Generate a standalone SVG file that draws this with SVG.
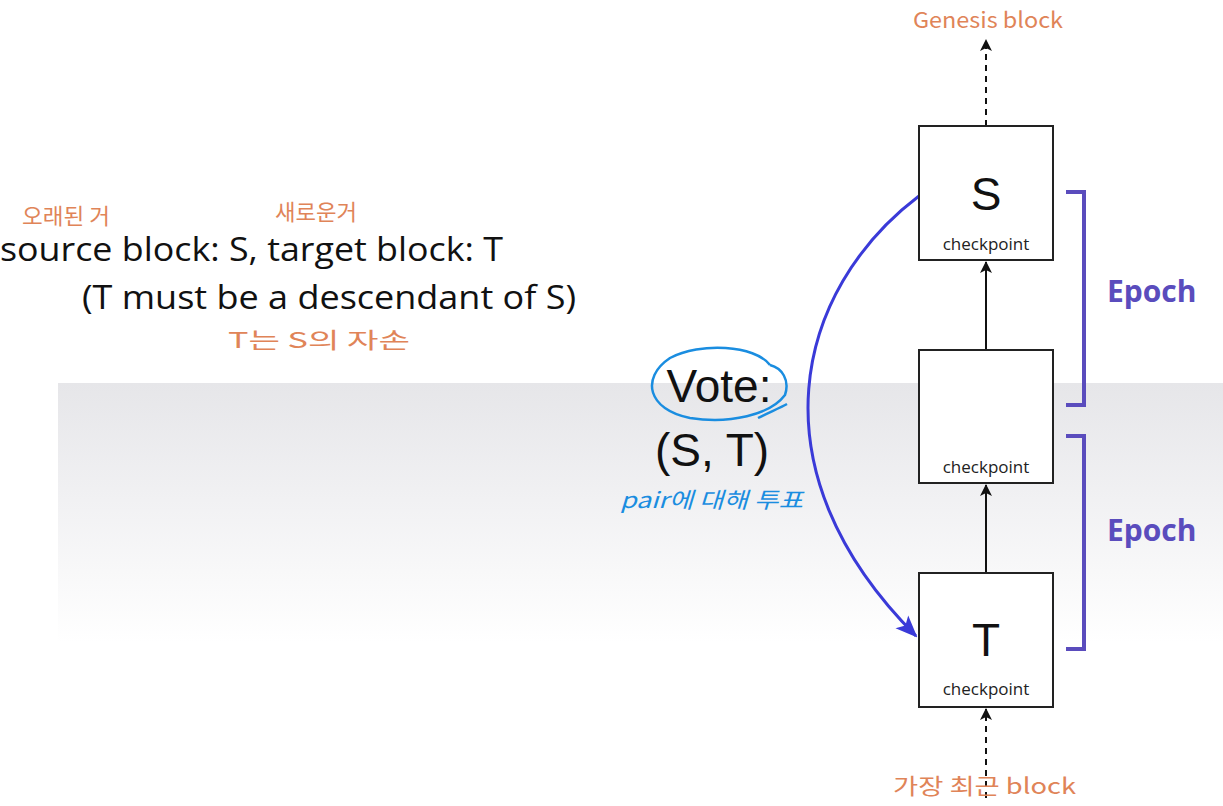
<svg xmlns="http://www.w3.org/2000/svg" width="1223" height="806" viewBox="0 0 1223 806">
<defs>
<linearGradient id="band" x1="0" y1="0" x2="0" y2="1">
<stop offset="0" stop-color="#e6e6e9"/>
<stop offset="0.45" stop-color="#f1f1f3"/>
<stop offset="1" stop-color="#ffffff"/>
</linearGradient>
<marker id="ah" markerWidth="12" markerHeight="12" refX="11" refY="6" orient="auto" markerUnits="userSpaceOnUse">
<path d="M0,0 L12,6 L0,12 L3,6 Z" fill="#111"/>
</marker>
<marker id="bh" markerWidth="22" markerHeight="22" refX="20" refY="11" orient="auto" markerUnits="userSpaceOnUse">
<path d="M0,2 L22,11 L0,20 L5,11 Z" fill="#3a3ad8"/>
</marker>
<style>
.box{fill:#fff;stroke:#222;stroke-width:2}
.cp{font-family:"Open Sans","Noto Sans",sans-serif;font-size:17px;fill:#222;text-anchor:middle}
.big{font-family:"Liberation Sans",Arial,sans-serif;font-size:46px;fill:#111;text-anchor:middle}
.epoch{font-family:"Open Sans","Noto Sans",sans-serif;font-size:30px;font-weight:bold;fill:#5a4cbd}
.brk{fill:none;stroke:#5a4cbd;stroke-width:4}
.main{font-family:"Open Sans","Noto Sans",sans-serif;font-size:32px;fill:#111}
.orange{font-family:"Noto Sans CJK KR","Noto Sans",sans-serif;fill:#e08458;font-size:22px}
.blue{font-family:"Noto Sans CJK KR","Noto Sans",sans-serif;fill:#1a8de0;font-size:22px;font-style:italic}
.conn{stroke:#111;stroke-width:2;fill:none}
</style>
</defs>
<rect x="0" y="0" width="1223" height="806" fill="#fff"/>
<rect x="58" y="383" width="1165" height="260" fill="url(#band)"/>

<g id="connectors">
<line class="conn" x1="986" y1="126" x2="986" y2="40" stroke-dasharray="6,5" marker-end="url(#ah)"/>
<line class="conn" x1="986" y1="350" x2="986" y2="262" marker-end="url(#ah)"/>
<line class="conn" x1="986" y1="573" x2="986" y2="485" marker-end="url(#ah)"/>
<line class="conn" x1="986" y1="798" x2="986" y2="709" stroke-dasharray="6,5" marker-end="url(#ah)"/>
<path d="M919,196 C795,290 750,470 916,636" fill="none" stroke="#3a3ad8" stroke-width="3" marker-end="url(#bh)"/>
</g>

<g id="node-s">
<rect class="box" x="919" y="126" width="134" height="134"/>
<text class="big" x="986" y="210">S</text>
<text class="cp" x="986" y="250">checkpoint</text>
</g>
<g id="node-mid">
<rect class="box" x="919" y="350" width="134" height="133"/>
<text class="cp" x="986" y="473">checkpoint</text>
</g>
<g id="node-t">
<rect class="box" x="919" y="573" width="134" height="134"/>
<text class="big" x="986" y="656">T</text>
<text class="cp" x="986" y="695">checkpoint</text>
</g>

<g id="epoch1">
<path class="brk" d="M1066,192 L1084,192 L1084,405 L1066,405"/>
<text class="epoch" x="1107" y="302">Epoch</text>
</g>
<g id="epoch2">
<path class="brk" d="M1066,436 L1084,436 L1084,649 L1066,649"/>
<text class="epoch" x="1107" y="541">Epoch</text>
</g>

<g id="vote">
<text class="big" x="719" y="402">Vote:</text>
<text class="big" x="712" y="466">(S, T)</text>
<path d="M770,365 C755,345 700,342 670,358 C640,378 648,410 690,418 C730,424 770,415 785,395 C790,380 782,368 770,365 M758,418 C770,412 780,408 787,404" fill="none" stroke="#1a8de0" stroke-width="2.5"/>
<text class="blue" x="620" y="508" textLength="183" lengthAdjust="spacingAndGlyphs">pair에 대해 투표</text>
</g>

<g id="text-left">
<text class="main" x="0" y="261" textLength="503" lengthAdjust="spacingAndGlyphs">source block: S, target block: T</text>
<text class="main" x="82" y="309" textLength="494" lengthAdjust="spacingAndGlyphs">(T must be a descendant of S)</text>
<text class="orange" x="22" y="224" font-size="20" textLength="88" lengthAdjust="spacingAndGlyphs">오래된 거</text>
<text class="orange" x="275" y="220" font-size="20" textLength="82" lengthAdjust="spacingAndGlyphs">새로운거</text>
<text class="orange" x="228" y="348" textLength="182" lengthAdjust="spacingAndGlyphs">T는 S의  자손</text>
</g>

<g id="labels">
<text class="orange" x="913" y="28" font-size="26" textLength="150" lengthAdjust="spacingAndGlyphs">Genesis block</text>
<text class="orange" x="893" y="794" font-size="26" textLength="183" lengthAdjust="spacingAndGlyphs">가장 최근 block</text>
</g>
</svg>
